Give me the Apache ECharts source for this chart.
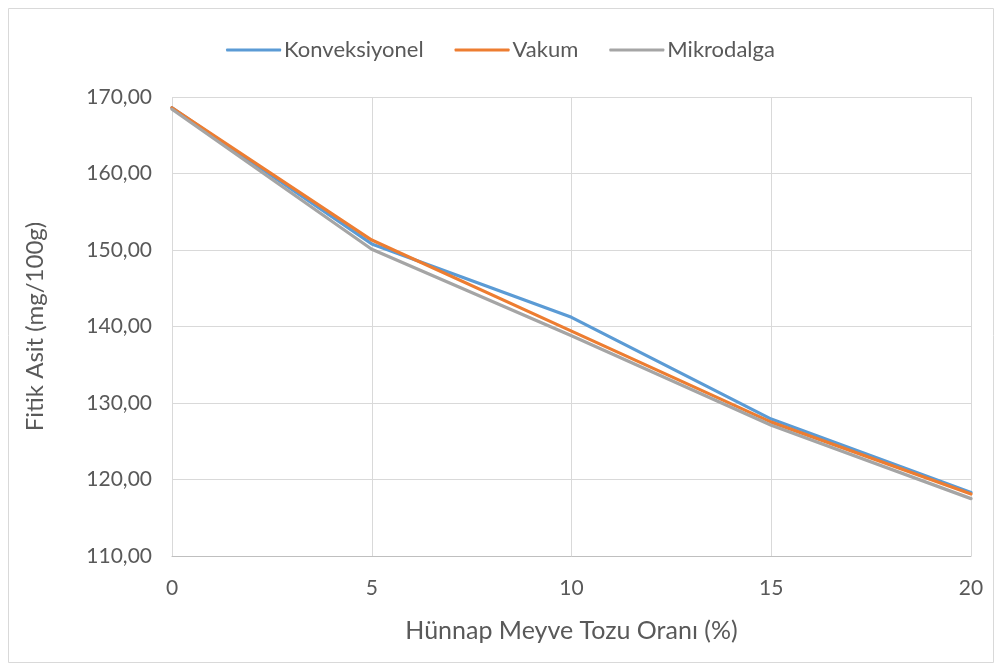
<!DOCTYPE html>
<html><head><meta charset="utf-8">
<script src="https://cdn.jsdelivr.net/npm/echarts@6/dist/echarts.min.js"></script>
<style>html,body{margin:0;padding:0;background:#fff}#c{width:1001px;height:671px}</style>
</head><body><div id="c"></div>
<script>
const xValues = [0, 5, 10, 15, 20];
const konveksiyonel = [168.6, 150.8, 141.2, 127.9, 118.3];
const vakum = [168.6, 151.3, 139.4, 127.5, 118.1];
const mikrodalga = [168.4, 150.1, 138.8, 127.1, 117.5];
const seriesNames = ['Konveksiyonel', 'Vakum', 'Mikrodalga'];
const colors = ['#5B9BD5', '#ED7D31', '#A5A5A5'];
const yTicks = {min: 110, max: 170, interval: 10};
const xTicks = {min: 0, max: 20, interval: 5};

const font = 'Lato, "Open Sans", sans-serif';
const chart = echarts.init(document.getElementById('c'), null, {renderer: 'canvas'});
const dataSets = [konveksiyonel, vakum, mikrodalga];
chart.setOption({
  animation: false,
  color: colors,
  graphic: [{type: 'rect', shape: {x: 8.5, y: 8.5, width: 985, height: 654}, style: {fill: 'none', stroke: '#D9D9D9', lineWidth: 1}}],
  legend: {
    top: 34, left: 'center', itemWidth: 55, itemHeight: 3, itemGap: 31,
    icon: 'roundRect',
    textStyle: {fontFamily: font, fontSize: 22, color: '#595959', padding: [0,0,0,-2]},
    data: seriesNames
  },
  grid: {left: 172, right: 30, top: 97, bottom: 115, containLabel: false},
  xAxis: {
    type: 'value', min: xTicks.min, max: xTicks.max, interval: xTicks.interval,
    name: 'Hünnap Meyve Tozu Oranı (%)', nameLocation: 'middle', nameGap: 62,
    nameTextStyle: {fontFamily: font, fontSize: 25, color: '#595959'},
    axisLine: {show: true, lineStyle: {color: '#BFBFBF', width: 1}},
    axisTick: {show: false},
    axisLabel: {fontFamily: font, fontSize: 21, color: '#595959', margin: 22},
    splitLine: {show: true, lineStyle: {color: '#D9D9D9', width: 1}}
  },
  yAxis: {
    type: 'value', min: yTicks.min, max: yTicks.max, interval: yTicks.interval,
    name: 'Fitik Asit (mg/100g)', nameLocation: 'middle', nameGap: 125, nameRotate: 90,
    nameTextStyle: {fontFamily: font, fontSize: 24, color: '#595959'},
    axisLine: {show: false}, axisTick: {show: false},
    axisLabel: {fontFamily: font, fontSize: 21, color: '#595959', margin: 20,
      formatter: v => v.toFixed(2).replace('.', ',')},
    splitLine: {show: true, lineStyle: {color: '#D9D9D9', width: 1}}
  },
  series: seriesNames.map((n, i) => ({
    name: n, type: 'line', showSymbol: false, symbol: 'none',
    lineStyle: {width: 3.2, color: colors[i], cap: 'round', join: 'round'},
    data: xValues.map((x, j) => [x, dataSets[i][j]])
  }))
});
</script></body></html>
